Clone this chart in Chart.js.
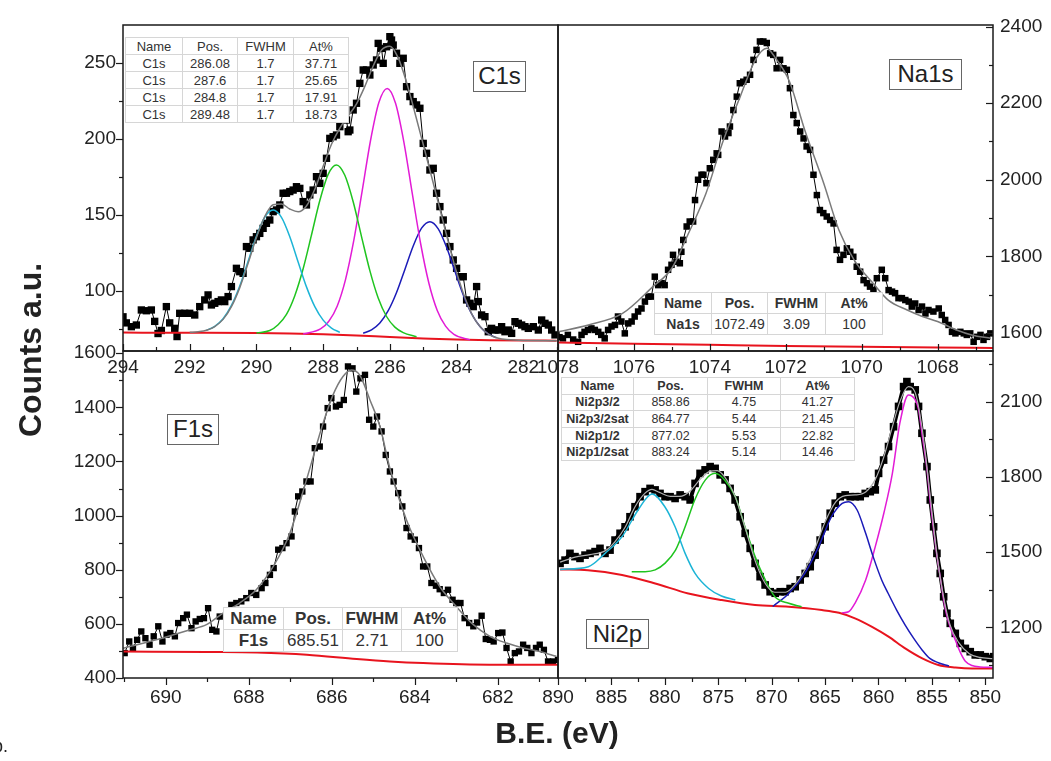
<!DOCTYPE html>
<html>
<head>
<meta charset="utf-8">
<script src="https://cdn.jsdelivr.net/npm/chart.js@4.4.1/dist/chart.umd.min.js"></script>
<style>
  body { margin: 0; background: #fff; }
  #wrap { position: relative; width: 1051px; height: 761px; overflow: hidden; font-family: "Liberation Sans", Arial, sans-serif; color: #222; }
  #wrap canvas { position: absolute; left: 0; top: 0; }
  .fit { position: absolute; border-collapse: collapse; background: #fff; text-align: center; table-layout: fixed; color: #333; }
  .fit td { padding: 0; border: 1px solid #d6d6d6; white-space: nowrap; overflow: hidden; }
  .tag { position: absolute; border: 1.5px solid #666; background: #fff; font-size: 24px; text-align: center; box-sizing: border-box; line-height: 27px; }
  #ylab { position: absolute; left: -110px; top: 331px; width: 280px; height: 38px; line-height: 38px; text-align: center; font-weight: bold; font-size: 32px; transform: rotate(-90deg); }
  #xlab { position: absolute; left: 407px; top: 715px; width: 300px; height: 36px; line-height: 36px; text-align: center; font-weight: bold; font-size: 30px; }
  #fig { position: absolute; left: -7px; top: 736px; font-size: 18px; }
</style>
</head>
<body>
<div id="wrap">
  <canvas id="pC1s" width="1051" height="761"></canvas>
  <canvas id="pNa1s" width="1051" height="761"></canvas>
  <canvas id="pF1s" width="1051" height="761"></canvas>
  <canvas id="pNi2p" width="1051" height="761"></canvas>
  <div class="tag" style="left:473px;top:61px;width:53px;height:31px">C1s</div>
  <div class="tag" style="left:889px;top:59px;width:73px;height:31px">Na1s</div>
  <div class="tag" style="left:167px;top:414px;width:52px;height:31px">F1s</div>
  <div class="tag" style="left:586px;top:619px;width:63px;height:30px">Ni2p</div>
  <div id="ylab">Counts a.u.</div>
  <div id="xlab">B.E. (eV)</div>
  <div id="fig">b.</div>
</div>
<script>
// ---- C1s ----
const c1sBE = [294.0, 293.9, 293.75, 293.6, 293.45, 293.3, 293.15, 293.05, 292.95, 292.85,
  292.7, 292.6, 292.45, 292.38, 292.3, 292.15, 292.0, 291.85, 291.7, 291.55,
  291.45, 291.35, 291.25, 291.15, 291.05, 290.95, 290.85, 290.75, 290.6, 290.5,
  290.4, 290.3, 290.2, 290.1, 290.0, 289.9, 289.8, 289.7, 289.6, 289.5,
  289.4, 289.3, 289.2, 289.1, 289.0, 288.9, 288.8, 288.7, 288.6, 288.5,
  288.4, 288.3, 288.2, 288.1, 288.0, 287.9, 287.8, 287.7, 287.6, 287.5,
  287.4, 287.35, 287.3, 287.25, 287.2, 287.1, 287.0, 286.9, 286.8, 286.7,
  286.6, 286.5, 286.4, 286.35, 286.25, 286.2, 286.1, 286.0, 285.95, 285.9,
  285.8, 285.7, 285.6, 285.5, 285.4, 285.3, 285.2, 285.1, 285.0, 284.9,
  284.8, 284.7, 284.6, 284.5, 284.4, 284.3, 284.2, 284.1, 284.0, 283.9,
  283.8, 283.7, 283.6, 283.5, 283.4, 283.35, 283.25, 283.15, 283.05, 282.95,
  282.85, 282.75, 282.65, 282.55, 282.45, 282.35, 282.25, 282.15, 282.05, 281.95,
  281.85, 281.7, 281.55, 281.45, 281.35, 281.25, 281.15, 281.05];
const c1sCounts = [83, 79, 76.5, 77.6, 87.5, 87, 87.5, 80, 72, 74,
  89.7, 79, 75.4, 70, 85.3, 85.3, 85.3, 84.2, 89.7, 94.1,
  97.4, 90.8, 91.9, 93, 94.1, 93, 96.3, 102.9, 114.9, 112.7,
  111.6, 129.2, 128.1, 133.6, 135.7, 137.9, 141.2, 144.5, 146.7, 152.2,
  153.3, 156.6, 164.3, 164.3, 165.4, 166.4, 168.6, 167.5, 158.8, 156.6,
  163.2, 166.4, 175.2, 170.8, 177.4, 187.3, 200.4, 201.5, 202.6, 208.1,
  214.7, 227.9, 212.5, 204.8, 205.9, 219.1, 223.5, 236.6, 245.4, 245.4,
  242.1, 248.7, 252, 262.9, 259.6, 249.8, 260.7, 267.3, 265.1, 261.8,
  256.4, 249.8, 253.1, 234.4, 227.9, 224.6, 222.4, 220.2, 197.1, 190.6,
  179.6, 180.7, 164.3, 155.5, 146.7, 137.9, 129.2, 120.4, 114.9, 109.4,
  109.4, 94.1, 91.9, 89.7, 102.9, 93, 84.2, 83.1, 73.2, 75.4,
  74.3, 74.3, 76.5, 73.2, 74.3, 72.1, 79.8, 78.7, 77.6, 76.5,
  75.4, 76.5, 74.3, 80.9, 78.7, 77.6, 74.3, 71.1];
const c1sEnvBE = [292, 291.75, 291.5, 291.25, 291, 290.75, 290.5, 290.25, 290, 289.75, 289.5, 289.25, 289,
  288.75, 288.5, 288.25, 288, 287.75, 287.5, 287.25, 287, 286.75, 286.5, 286.25, 286, 285.75, 285.5,
  285.25, 285, 284.75, 284.5, 284.25, 284, 283.75, 283.5, 283.25, 283, 282.75, 282.5, 282, 281];
const c1sEnv = [72.8, 73.2, 74.1, 76.6, 81.3, 89.7, 102.2, 118.2, 135.2, 149.0, 156.7, 157.2, 153.9,
  152.1, 155.9, 166.9, 182, 196.5, 207.2, 215.1, 223.1, 234.6, 248, 258.6, 261.1, 253.4, 237.3,
  217.3, 196.4, 175.3, 153.9, 132.3, 112.3, 95.5, 83.0, 75.4, 71.0, 68.9, 68.0, 67.4, 67.3];
const c1sBgBE = [294, 292, 290, 289, 288, 287, 286, 285, 284, 283, 282, 281];
const c1sBg = [72.6, 72.5, 72.3, 72, 71.5, 70.7, 69.7, 68.8, 68, 67.6, 67.4, 67.3];
const c1sCyanBE = [291.5, 291.25, 291, 290.75, 290.5, 290.25, 290, 289.75, 289.5, 289.25, 289, 288.75, 288.5, 288.25, 288, 287.75, 287.5];
const c1sCyan = [74.1, 76.7, 81.7, 90.5, 103.3, 119.5, 136, 148.5, 153.2, 148.4, 135.7, 119.1, 102.7, 89.7, 80.8, 75.6, 72.8];
const c1sGreenBE = [290.0, 289.6, 289.35, 289.1, 288.85, 288.6, 288.35, 288.1, 287.85, 287.6, 287.35, 287.1, 286.85, 286.6, 286.35, 286.1, 285.85, 285.6, 285.2];
const c1sGreen = [72.3, 74.0, 77.8, 84.6, 96.9, 114.6, 136.8, 159.5, 176.7, 182.9, 176.1, 158.7, 135.8, 113.4, 95.4, 83.2, 76.2, 72.6, 69.9];
const c1sMagBE = [288.6, 288.08, 287.83, 287.58, 287.33, 287.08, 286.83, 286.58, 286.33, 286.08, 285.83, 285.58, 285.33, 285.08, 284.83, 284.58, 284.33, 284.08, 283.6];
const c1sMag = [71.7, 75.0, 80.1, 90.0, 107.5, 133.4, 165.8, 199, 224, 233.3, 223.5, 198, 164.3, 131.4, 105.1, 87.2, 76.9, 71.5, 67.8];
const c1sBlueBE = [286.8, 286.55, 286.3, 286.05, 285.8, 285.55, 285.3, 285.05, 284.8, 284.55, 284.3, 284.05, 283.8, 283.55, 283.3, 283.05, 282.8];
const c1sBlue = [72.2, 74.4, 78.9, 87, 99, 114.2, 129.6, 141.3, 145.6, 140.9, 128.8, 112.9, 97.4, 85, 76.6, 71.7, 69.2];
const c1sXTicks = [294, 292, 290, 288, 286, 284, 282];
const c1sXMinor = [293, 291, 289, 287, 285, 283, 281];
const c1sYTicks = [100, 150, 200, 250];
const c1sYMinor = [75, 125, 175, 225];

// ---- Na1s ----
const na1sBE = [1078.04, 1077.96, 1077.87, 1077.74, 1077.60, 1077.47, 1077.38, 1077.30, 1077.21, 1077.12,
  1077.03, 1076.94, 1076.86, 1076.77, 1076.68, 1076.59, 1076.50, 1076.42, 1076.33, 1076.24,
  1076.15, 1076.06, 1075.98, 1075.89, 1075.80, 1075.71, 1075.62, 1075.54, 1075.45, 1075.36,
  1075.27, 1075.19, 1075.10, 1075.01, 1074.97, 1074.88, 1074.79, 1074.75, 1074.70, 1074.61,
  1074.53, 1074.44, 1074.39, 1074.31, 1074.22, 1074.17, 1074.09, 1074.00, 1073.91, 1073.82,
  1073.78, 1073.69, 1073.60, 1073.51, 1073.47, 1073.38, 1073.29, 1073.21, 1073.12, 1073.03,
  1072.94, 1072.85, 1072.77, 1072.68, 1072.59, 1072.50, 1072.41, 1072.33, 1072.24, 1072.15,
  1072.06, 1071.97, 1071.89, 1071.80, 1071.71, 1071.62, 1071.53, 1071.45, 1071.36, 1071.27,
  1071.18, 1071.10, 1071.01, 1070.92, 1070.83, 1070.74, 1070.66, 1070.57, 1070.48, 1070.39,
  1070.30, 1070.22, 1070.13, 1070.04, 1069.95, 1069.86, 1069.78, 1069.69, 1069.60, 1069.47,
  1069.38, 1069.29, 1069.20, 1069.12, 1069.03, 1068.94, 1068.85, 1068.76, 1068.68, 1068.59,
  1068.50, 1068.41, 1068.32, 1068.24, 1068.11, 1067.97, 1067.89, 1067.80, 1067.71, 1067.62,
  1067.53, 1067.40, 1067.31, 1067.23, 1067.14, 1067.05, 1066.96, 1066.87, 1066.79, 1066.70, 1066.61];
const na1sCounts = [1595, 1589, 1586, 1595, 1583, 1577, 1595, 1603, 1608, 1612,
  1608, 1603, 1595, 1586, 1608, 1617, 1621, 1643, 1630, 1599,
  1625, 1630, 1643, 1656, 1664, 1682, 1695, 1695, 1747, 1725,
  1730, 1725, 1765, 1778, 1804, 1786, 1782, 1812, 1843, 1878,
  1891, 1891, 1947, 2000, 2013, 2013, 1991, 2030, 2052, 2069,
  2065, 2126, 2113, 2122, 2139, 2182, 2217, 2252, 2256, 2261,
  2274, 2313, 2339, 2361, 2361, 2357, 2330, 2326, 2291, 2313,
  2291, 2287, 2239, 2169, 2148, 2126, 2108, 2087, 2078, 2013,
  1960, 1921, 1913, 1904, 1895, 1886, 1817, 1791, 1804, 1821,
  1812, 1799, 1773, 1760, 1738, 1730, 1721, 1712, 1743, 1765,
  1743, 1712, 1708, 1704, 1691, 1691, 1686, 1682, 1669, 1677,
  1660, 1669, 1651, 1660, 1656, 1664, 1647, 1634, 1621, 1603,
  1599, 1603, 1599, 1595, 1599, 1577, 1590, 1595, 1582, 1590, 1599];
const na1sEnvBE = [1078, 1077.2, 1076.3, 1075.5, 1075, 1074.6, 1074.1, 1073.7, 1073.2, 1072.8, 1072.5, 1072.3, 1071.9,
  1071.5, 1071, 1070.6, 1070.2, 1069.7, 1069.3, 1068.8, 1068.4, 1068, 1067.5, 1067.1, 1066.6];
const na1sEnv = [1603, 1621, 1651, 1721, 1769, 1852, 1965, 2087, 2217, 2313, 2343, 2322, 2256,
  2130, 1991, 1869, 1791, 1730, 1686, 1660, 1643, 1630, 1608, 1595, 1586];
const na1sBgBE = [1078, 1076, 1074, 1072, 1070, 1068, 1066.5];
const na1sBg = [1575, 1572, 1569, 1566, 1564, 1562, 1561];
const na1sXTicks = [1078, 1076, 1074, 1072, 1070, 1068];
const na1sXMinor = [1077, 1075, 1073, 1071, 1069, 1067];
const na1sYTicks = [1600, 1800, 2000, 2200, 2400];
const na1sYMinor = [1700, 1900, 2100, 2300];

// ---- F1s ----
const f1sBE = [690.99, 690.88, 690.79, 690.69, 690.59, 690.49, 690.39, 690.29, 690.18, 690.08,
  689.98, 689.89, 689.78, 689.70, 689.58, 689.49, 689.38, 689.28, 689.18, 689.08,
  688.98, 688.88, 688.78, 688.70, 688.42, 688.30, 688.18, 688.06, 687.94, 687.82,
  687.69, 687.60, 687.49, 687.40, 687.29, 687.19, 687.09, 686.97, 686.89, 686.81,
  686.71, 686.61, 686.51, 686.41, 686.29, 686.21, 686.10, 686.01, 685.90, 685.81,
  685.71, 685.61, 685.50, 685.41, 685.31, 685.20, 685.10, 685.00, 684.91, 684.80,
  684.70, 684.60, 684.51, 684.40, 684.30, 684.20, 684.10, 684.00, 683.90, 683.80,
  683.70, 683.60, 683.49, 683.40, 683.30, 683.20, 683.09, 683.00, 682.90, 682.80,
  682.69, 682.59, 682.50, 682.39, 682.29, 682.19, 682.10, 681.99, 681.89, 681.79,
  681.69, 681.59, 681.49, 681.39, 681.29, 681.19, 681.08, 680.99, 680.89, 680.79,
  680.67, 680.55];
const f1sCounts = [492, 535, 511, 541, 572, 547, 523, 554, 591, 535,
  560, 566, 554, 603, 621, 634, 584, 609, 618, 621,
  658, 578, 572, 627, 670, 677, 683, 695, 714, 707,
  732, 751, 781, 806, 874, 880, 898, 923, 1015, 1071,
  1089, 1126, 1126, 1249, 1255, 1329, 1397, 1434, 1403, 1409,
  1427, 1551, 1544, 1458, 1507, 1520, 1354, 1329, 1366, 1311,
  1224, 1163, 1126, 1083, 1034, 954, 923, 911, 880, 812,
  812, 751, 741, 728, 714, 726, 689, 677, 677, 621,
  603, 591, 605, 630, 544, 541, 535, 566, 568, 511,
  461, 492, 498, 523, 511, 492, 511, 523, 504, 461,
  461, 467];
const f1sEnvBE = [691.03, 690.23, 689.42, 689.02, 688.62, 688.22, 687.82, 687.41, 687.01, 686.61, 686.21, 685.97,
  685.73, 685.53, 685.33, 685.08, 684.84, 684.6, 684.2, 683.8, 683.4, 683.0, 682.59, 682.19, 681.79, 681.39, 680.99, 680.59];
const f1sEnv = [510, 541, 578, 597, 640, 677, 726, 812, 935, 1132, 1341, 1446,
  1514, 1538, 1520, 1427, 1329, 1175, 984, 849, 738, 664, 597, 554, 529, 511, 498, 480];
const f1sBgBE = [691.03, 689, 687.8, 686.6, 685.4, 684.6, 683.8, 682.2, 680.55];
const f1sBg = [498, 496, 494, 486, 470, 461, 455, 449, 449];
const f1sXTicks = [690, 688, 686, 684, 682];
const f1sXMinor = [691, 689, 687, 685, 683, 681];
const f1sYTicks = [400, 600, 800, 1000, 1200, 1400, 1600];
const f1sYMinor = [500, 700, 900, 1100, 1300, 1500];

// ---- Ni2p ----
const ni2pBE = [889.81, 889.34, 888.88, 888.41, 887.94, 887.47, 887.00, 886.53, 886.07, 885.60,
  885.13, 884.66, 884.19, 883.72, 883.26, 882.79, 882.32, 881.85, 881.38, 880.91,
  880.45, 879.98, 879.51, 879.04, 878.57, 878.10, 877.63, 877.17, 876.70, 876.23,
  875.76, 875.29, 874.82, 874.36, 873.89, 873.42, 872.95, 872.48, 872.01, 871.55,
  871.08, 870.61, 870.14, 869.67, 869.20, 868.74, 868.27, 867.80, 867.33, 866.86,
  866.39, 865.93, 865.46, 864.99, 864.52, 864.05, 863.58, 863.12, 862.65, 862.18,
  861.71, 861.24, 860.77, 860.30, 859.99, 859.52, 859.06, 858.59, 858.12, 857.65,
  857.34, 857.03, 856.56, 856.25, 855.93, 855.46, 855.15, 854.84, 854.53, 854.22,
  853.90, 853.59, 853.28, 852.81, 852.34, 851.87, 851.41, 850.94, 850.47, 850.00,
  849.53, 849.22];
const ni2pCounts = [1455, 1468, 1495, 1482, 1475, 1488, 1495, 1502, 1515, 1495,
  1508, 1548, 1575, 1601, 1641, 1681, 1721, 1741, 1754, 1748,
  1734, 1721, 1721, 1714, 1728, 1721, 1708, 1774, 1814, 1828,
  1841, 1834, 1808, 1788, 1754, 1708, 1641, 1575, 1515, 1455,
  1402, 1369, 1342, 1336, 1342, 1342, 1355, 1362, 1389, 1415,
  1442, 1488, 1548, 1601, 1655, 1695, 1721, 1728, 1721, 1721,
  1721, 1734, 1741, 1748, 1814, 1867, 1921, 2000, 2081, 2160,
  2180, 2160, 2147, 2081, 1974, 1841, 1708, 1601, 1495, 1415,
  1322, 1256, 1216, 1176, 1136, 1116, 1103, 1090, 1090, 1083,
  1076, 1083];
const ni2pEnvBE = [889.8, 888.4, 887.0, 885.6, 884.7, 883.7, 882.8, 881.85, 881.2, 880.5, 879.5, 878.6, 877.6,
  876.7, 875.8, 875.1, 874.4, 873.4, 872.5, 871.5, 870.6, 869.7, 868.7, 867.8, 866.9, 865.9, 865.0,
  864.0, 863.1, 862.2, 861.2, 860.3, 859.5, 858.7, 858.0, 857.2, 856.6, 855.9, 855.2, 854.5, 853.9,
  853.3, 852.5, 851.5, 850.5, 849.3];
const ni2pEnv = [1460, 1480, 1490, 1505, 1540, 1600, 1680, 1735, 1750, 1738, 1722, 1722, 1745,
  1790, 1822, 1825, 1800, 1720, 1600, 1460, 1375, 1340, 1340, 1372, 1430, 1520, 1620,
  1700, 1725, 1728, 1740, 1790, 1880, 2000, 2100, 2160, 2140, 1990, 1740, 1480, 1320,
  1210, 1140, 1095, 1080, 1075];
const ni2pBgBE = [889.8, 887.2, 884, 880.9, 877.8, 874.7, 871.55, 868.4, 865.3, 863.7, 862.2, 860.6, 859.06, 857.5, 855.9, 854.4, 852.8, 851.25, 849.3];
const ni2pBg = [1431, 1428, 1409, 1375, 1335, 1309, 1289, 1282, 1269, 1258, 1236, 1202, 1163, 1116, 1076, 1050, 1040, 1036, 1036];
const ni2pCyanBE = [889.8, 887.16, 885.6, 884.0, 882.5, 881.2, 880.0, 879.04, 878.1, 877.17, 875.9, 874.7, 873.4];
const ni2pCyan = [1431, 1442, 1495, 1562, 1668, 1732, 1681, 1601, 1495, 1415, 1355, 1325, 1309];
const ni2pGreenBE = [883.1, 881.85, 880.9, 880.0, 879.0, 878.1, 877.2, 876.2, 875.3, 874.4, 873.4, 872.5, 871.55, 870.6, 869.7, 868.4, 867.2];
const ni2pGreen = [1422, 1422, 1429, 1455, 1508, 1601, 1708, 1788, 1814, 1788, 1721, 1601, 1482, 1389, 1322, 1296, 1282];
const ni2pBlueBE = [869.9, 868.4, 866.9, 865.6, 864.4, 863.4, 862.8, 862.0, 861.2, 860.5, 859.7, 859.1, 858.3, 857.5, 856.7, 855.9, 855.2, 854.4, 853.4];
const ni2pBlue = [1283, 1335, 1415, 1522, 1641, 1694, 1701, 1668, 1575, 1482, 1389, 1336, 1269, 1209, 1156, 1109, 1076, 1059, 1046];
const ni2pMagBE = [863.4, 862.8, 862.2, 861.2, 860.3, 859.5, 858.7, 858.0, 857.2, 856.6, 856.25, 855.9, 855.46, 855.15,
  854.84, 854.53, 854.22, 853.9, 853.59, 853.28, 852.81, 852.34, 851.87, 851.25, 850.5, 849.3];
const ni2pMag = [1258, 1262, 1296, 1389, 1522, 1655, 1814, 2014, 2127, 2110, 2070, 1965, 1830, 1700,
  1590, 1485, 1400, 1310, 1245, 1200, 1150, 1100, 1065, 1048, 1042, 1040];
const ni2pXTicks = [890, 885, 880, 875, 870, 865, 860, 855, 850];
const ni2pXMinor = [887.5, 882.5, 877.5, 872.5, 867.5, 862.5, 857.5, 852.5];
const ni2pYTicks = [1200, 1500, 1800, 2100];
const ni2pYMinor = [1050, 1350, 1650, 1950, 2250];

// ---- fit tables ----
const c1sTable = [['Name', 'Pos.', 'FWHM', 'At%'], ['C1s', '286.08', '1.7', '37.71'], ['C1s', '287.6', '1.7', '25.65'], ['C1s', '284.8', '1.7', '17.91'], ['C1s', '289.48', '1.7', '18.73']];
const na1sTable = [['Name', 'Pos.', 'FWHM', 'At%'], ['Na1s', '1072.49', '3.09', '100']];
const f1sTable = [['Name', 'Pos.', 'FWHM', 'At%'], ['F1s', '685.51', '2.71', '100']];
const ni2pTable = [['Name', 'Pos.', 'FWHM', 'At%'], ['Ni2p3/2', '858.86', '4.75', '41.27'], ['Ni2p3/2sat', '864.77', '5.44', '21.45'], ['Ni2p1/2', '877.02', '5.53', '22.82'], ['Ni2p1/2sat', '883.24', '5.14', '14.46']];

Chart.defaults.font.family = '"Liberation Sans", Arial, sans-serif';
Chart.defaults.color = '#222';

const pts = (xs, ys) => xs.map((x, i) => ({x: x, y: ys[i]}));

function curve(xs, ys, color, order, width) {
  return {data: pts(xs, ys), showLine: true, pointRadius: 0, borderColor: color,
    borderWidth: width || 1.5, cubicInterpolationMode: 'monotone', order: order};
}
function dots(xs, ys, r, lw) {
  return {data: pts(xs, ys), showLine: true, borderColor: '#000', borderWidth: lw || 1,
    pointStyle: 'rect', pointRadius: r, pointBackgroundColor: '#000', pointBorderWidth: 0, order: 10};
}

// box around each panel plus small tick marks (+1 outward, -1 inward)
const frameTicks = {
  id: 'frameTicks',
  afterDatasetsDraw(chart, args, opts) {
    const ctx = chart.ctx, a = chart.chartArea;
    ctx.save();
    ctx.strokeStyle = '#1a1a1a';
    ctx.lineWidth = 1.5;
    ctx.strokeRect(a.left, a.top, a.right - a.left, a.bottom - a.top);
    ctx.lineWidth = 1.2;
    ['x', 'y'].forEach(id => {
      const s = chart.scales[id];
      const dir = opts[id];
      s.ticks.forEach(t => {
        const p = Math.round(s.getPixelForValue(t.value)) + 0.5;
        const len = (t.minor ? 4 : 7) * dir;
        ctx.beginPath();
        if (s.isHorizontal()) {
          ctx.moveTo(p, a.bottom);
          ctx.lineTo(p, a.bottom + len);
        } else {
          const edge = s.position === 'left' ? a.left : a.right;
          const sign = s.position === 'left' ? -1 : 1;
          ctx.moveTo(edge, p);
          ctx.lineTo(edge + sign * len, p);
        }
        ctx.stroke();
      });
    });
    ctx.restore();
  }
};

function axis(min, max, horiz, pos, major, minor, pad) {
  return {
    type: 'linear', position: pos, min: min, max: max, reverse: horiz,
    grid: {display: false, drawTicks: false},
    border: {display: false},
    ticks: {padding: pad, autoSkip: false, maxRotation: 0, font: {size: 19},
      callback: (v, i, ts) => ts[i].minor ? '' : v},
    afterBuildTicks: s => {
      s.ticks = major.map(v => ({value: v})).concat(minor.map(v => ({value: v, minor: true})))
        .sort((p, q) => p.value - q.value);
    },
    afterFit: s => {
      if (horiz) { s.height = 30; s.paddingLeft = 0; s.paddingRight = 0; }
      else { s.width = pos === 'left' ? 123 : 58; s.paddingTop = 0; s.paddingBottom = 0; }
    }
  };
}

function panel(id, o) {
  new Chart(document.getElementById(id), {
    type: 'scatter',
    data: {datasets: o.datasets},
    options: {
      responsive: false,
      animation: false,
      events: [],
      layout: {padding: o.pad},
      plugins: {legend: {display: false}, tooltip: {enabled: false}, frameTicks: o.dirs},
      scales: {
        x: axis(o.x[0], o.x[1], true, 'bottom', o.xt[0], o.xt[1], o.xPad),
        y: axis(o.y[0], o.y[1], false, o.yPos, o.yt[0], o.yt[1], 7)
      }
    },
    plugins: [frameTicks]
  });
}

const CYAN = '#1cb4d6', GREEN = '#1fc41f', MAG = '#e21bd6', BLUE = '#1b1bb8', RED = '#e8141e', GREY = '#7a7a7a';

panel('pC1s', {
  pad: {left: 0, right: 493, top: 25, bottom: 380},
  x: [280.96, 294], y: [60.5, 275], yPos: 'left', xPad: 5,
  xt: [c1sXTicks, c1sXMinor], yt: [c1sYTicks, c1sYMinor],
  dirs: {x: -1, y: 1},
  datasets: [
    dots(c1sBE, c1sCounts, 5.2),
    curve(c1sBgBE, c1sBg, RED, 5, 2),
    curve(c1sCyanBE, c1sCyan, CYAN, 3),
    curve(c1sGreenBE, c1sGreen, GREEN, 3),
    curve(c1sMagBE, c1sMag, MAG, 3),
    curve(c1sBlueBE, c1sBlue, BLUE, 3),
    curve(c1sEnvBE, c1sEnv, GREY, 1, 1.5)
  ]
});

panel('pNa1s', {
  pad: {left: 558, right: 0, top: 25, bottom: 380},
  x: [1066.54, 1078], y: [1553, 2404], yPos: 'right', xPad: 5,
  xt: [na1sXTicks, na1sXMinor], yt: [na1sYTicks, na1sYMinor],
  dirs: {x: -1, y: -1},
  datasets: [
    dots(na1sBE, na1sCounts, 4.6),
    curve(na1sBgBE, na1sBg, RED, 5, 2),
    curve(na1sEnvBE, na1sEnv, GREY, 1, 1.5)
  ]
});

panel('pF1s', {
  pad: {left: 0, right: 493, top: 351, bottom: 53},
  x: [680.55, 691.03], y: [400, 1608], yPos: 'left', xPad: 8,
  xt: [f1sXTicks, f1sXMinor], yt: [f1sYTicks, f1sYMinor],
  dirs: {x: 1, y: 1},
  datasets: [
    dots(f1sBE, f1sCounts, 4.5),
    curve(f1sBgBE, f1sBg, RED, 5, 2),
    curve(f1sEnvBE, f1sEnv, GREY, 1, 1.5)
  ]
});

panel('pNi2p', {
  pad: {left: 558, right: 0, top: 351, bottom: 53},
  x: [849.28, 890], y: [998, 2302], yPos: 'right', xPad: 8,
  xt: [ni2pXTicks, ni2pXMinor], yt: [ni2pYTicks, ni2pYMinor],
  dirs: {x: 1, y: -1},
  datasets: [
    dots(ni2pBE, ni2pCounts, 5.4, 4),
    curve(ni2pBgBE, ni2pBg, RED, 5, 2),
    curve(ni2pCyanBE, ni2pCyan, CYAN, 3),
    curve(ni2pGreenBE, ni2pGreen, GREEN, 3),
    curve(ni2pBlueBE, ni2pBlue, BLUE, 3),
    curve(ni2pMagBE, ni2pMag, MAG, 3),
    curve(ni2pEnvBE, ni2pEnv, '#b0b0b0', 1, 1.2)
  ]
});

// fit-result tables
function fitTable(rows, o) {
  const t = document.createElement('table');
  t.className = 'fit';
  Object.assign(t.style, {left: o.left + 'px', top: o.top + 'px', fontSize: o.font + 'px'});
  rows.forEach((r, ri) => {
    const tr = t.insertRow();
    tr.style.height = o.rowH + 'px';
    r.forEach((c, ci) => {
      const td = tr.insertCell();
      td.textContent = c;
      td.style.width = o.widths[ci] + 'px';
      if ((ri === 0 && o.boldHead) || (ci === 0 && ri > 0 && o.boldName)) td.style.fontWeight = 'bold';
    });
  });
  document.getElementById('wrap').appendChild(t);
  return t;
}

const t1 = fitTable(c1sTable, {left: 125, top: 37, font: 13, rowH: 17, widths: [56, 54, 55, 54]});
t1.style.borderRight = '1.5px solid #444';
const t2 = fitTable(na1sTable, {left: 654, top: 292, font: 14, rowH: 21, widths: [56, 55, 57, 56], boldHead: true, boldName: true});
t2.style.borderRight = '1.5px solid #555';
const t3 = fitTable(f1sTable, {left: 223, top: 607, font: 17, rowH: 22, widths: [59, 58, 58, 55], boldHead: true, boldName: true});
t3.style.borderTop = '1.5px solid #555';
const t4 = fitTable(ni2pTable, {left: 561, top: 377, font: 12.5, rowH: 16.6, widths: [71, 73, 72, 73], boldHead: true, boldName: true});
t4.style.border = '1.5px solid #555';
</script>
</body>
</html>
